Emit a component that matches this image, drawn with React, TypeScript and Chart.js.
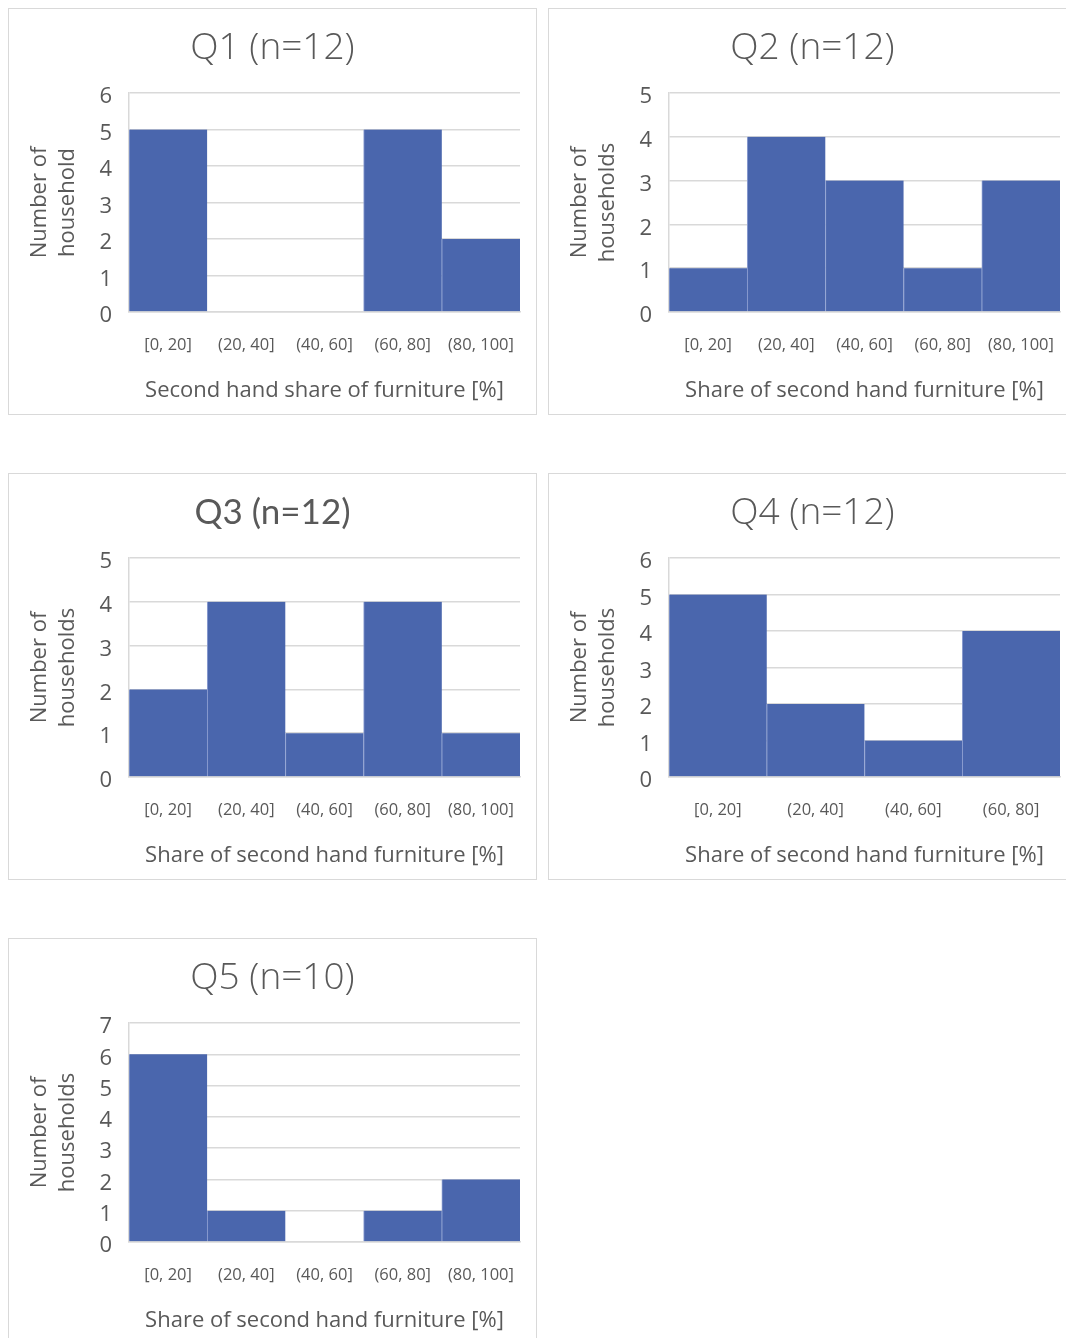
import React, { useEffect, useRef } from "react";
import { Chart, registerables } from "chart.js";

Chart.register(...registerables);

const categories5 = ["[0, 20]", "(20, 40]", "(40, 60]", "(60, 80]", "(80, 100]"];
const categories4 = ["[0, 20]", "(20, 40]", "(40, 60]", "(60, 80]"];

const q1Values = [5, 0, 0, 5, 2];
const q2Values = [1, 4, 3, 1, 3];
const q3Values = [2, 4, 1, 4, 1];
const q4Values = [5, 2, 1, 4];
const q5Values = [6, 1, 0, 1, 2];

const titles = ["Q1 (n=12)", "Q2 (n=12)", "Q3 (n=12)", "Q4 (n=12)", "Q5 (n=10)"];
const yTitleQ1 = ["Number of", "household"];
const yTitleOther = ["Number of", "households"];
const xTitleQ1 = "Second hand share of furniture [%]";
const xTitleOther = "Share of second hand furniture [%]";
const yMaxes = [6, 5, 5, 6, 7];

const BAR = "#4a66ad";
const GRID = "#d9d9d9";
const TEXT = "#595959";
const FONT = "'Open Sans', 'Noto Sans', sans-serif";

const PANEL_W = 529;
const PANEL_H = 407;

type PanelDef = {
  left: number;
  top: number;
  title: string;
  titleFont: string;
  titleWeight: any;
  titleSize: number;
  labels: string[];
  values: number[];
  yTitle: string[];
  xTitle: string;
  yMax: number;
};

const panels: PanelDef[] = [
  { left: 8, top: 8, title: titles[0], titleFont: FONT, titleWeight: 300, titleSize: 37, labels: categories5, values: q1Values, yTitle: yTitleQ1, xTitle: xTitleQ1, yMax: yMaxes[0] },
  { left: 548, top: 8, title: titles[1], titleFont: FONT, titleWeight: 300, titleSize: 37, labels: categories5, values: q2Values, yTitle: yTitleOther, xTitle: xTitleOther, yMax: yMaxes[1] },
  { left: 8, top: 473, title: titles[2], titleFont: "Lato, 'Open Sans', sans-serif", titleWeight: 400, titleSize: 35, labels: categories5, values: q3Values, yTitle: yTitleOther, xTitle: xTitleOther, yMax: yMaxes[2] },
  { left: 548, top: 473, title: titles[3], titleFont: FONT, titleWeight: 300, titleSize: 37, labels: categories4, values: q4Values, yTitle: yTitleOther, xTitle: xTitleOther, yMax: yMaxes[3] },
  { left: 8, top: 938, title: titles[4], titleFont: FONT, titleWeight: 300, titleSize: 37, labels: categories5, values: q5Values, yTitle: yTitleOther, xTitle: xTitleOther, yMax: yMaxes[4] },
];

function Panel({ def }: { def: PanelDef }) {
  const ref = useRef<HTMLCanvasElement | null>(null);
  useEffect(() => {
    if (!ref.current) return;
    const titleLH = def.titleSize * 1.2;
    const titleTop = 39 - titleLH / 2;
    const titleBottom = 84 - titleTop - titleLH;
    const chart = new Chart(ref.current, {
      type: "bar",
      data: {
        labels: def.labels,
        datasets: [
          {
            data: def.values,
            backgroundColor: BAR,
            borderColor: "#8ea0d2",
            borderWidth: { left: 1, right: 0, top: 0, bottom: 0 } as any,
            borderSkipped: false as any,
            barPercentage: 1,
            categoryPercentage: 1,
          },
        ],
      },
      options: {
        animation: false,
        responsive: false,
        maintainAspectRatio: false,
        layout: { padding: 0 },
        plugins: {
          legend: { display: false },
          tooltip: { enabled: false },
          title: {
            display: true,
            text: def.title,
            color: TEXT,
            font: { family: def.titleFont, size: def.titleSize, weight: def.titleWeight, lineHeight: 1.2 },
            padding: { top: titleTop, bottom: titleBottom },
          },
        },
        scales: {
          x: {
            grid: { display: false, drawTicks: false },
            border: { display: true, color: GRID, width: 1.5 },
            ticks: {
              color: TEXT,
              font: { family: FONT, size: 16.5, lineHeight: 1.2 },
              padding: 23,
              maxRotation: 0,
              autoSkip: false,
            },
            title: {
              display: true,
              text: def.xTitle,
              color: TEXT,
              font: { family: FONT, size: 22, lineHeight: 1.2 },
              padding: { top: 0, bottom: 10 },
            },
            afterFit: (scale: any) => {
              scale.height = 102;
              scale.paddingLeft = 0;
              scale.paddingRight = 16;
            },
          },
          y: {
            min: 0,
            max: def.yMax,
            ticks: {
              stepSize: 1,
              color: TEXT,
              font: { family: FONT, size: 22, lineHeight: 1.2 },
              padding: 17,
              labelOffset: 4,
            },
            grid: { color: GRID, lineWidth: 1.5, drawTicks: false },
            border: { display: true, color: GRID, width: 1.5 },
            title: {
              display: true,
              text: def.yTitle,
              color: TEXT,
              font: { family: FONT, size: 22, lineHeight: 1.25 },
              padding: { top: 17, bottom: 0 },
            },
            afterFit: (scale: any) => {
              scale.width = 120;
              scale.paddingTop = 0;
              scale.paddingBottom = 0;
            },
          },
        },
      },
    });
    return () => chart.destroy();
  }, [def]);

  return (
    <div
      style={{
        position: "absolute",
        left: def.left,
        top: def.top,
        width: PANEL_W,
        height: PANEL_H,
        boxSizing: "border-box",
        border: `1px solid ${GRID}`,
        background: "#fff",
      }}
    >
      <canvas
        ref={ref}
        width={PANEL_W - 2}
        height={PANEL_H - 2}
        style={{ position: "absolute", left: 0, top: 0, width: PANEL_W - 2, height: PANEL_H - 2 }}
      />
    </div>
  );
}

export default function App() {
  return (
    <div
      style={{
        position: "absolute",
        left: 0,
        top: 0,
        width: 1066,
        height: 1338,
        overflow: "hidden",
        background: "#fff",
      }}
    >
      {panels.map((p, i) => (
        <Panel key={i} def={p} />
      ))}
    </div>
  );
}
